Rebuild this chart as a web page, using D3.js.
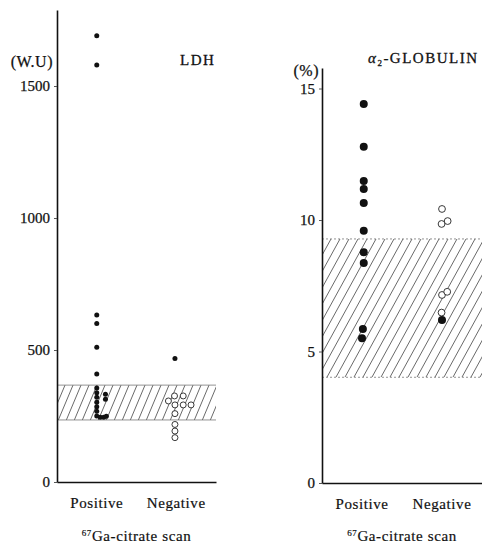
<!DOCTYPE html>
<html><head><meta charset="utf-8">
<script src="https://cdn.jsdelivr.net/npm/d3@7"></script>
<style>
body{margin:0;background:#fff;}
text{font-family:"Liberation Serif","Times New Roman",serif;fill:#111;}
</style></head>
<body><svg id="c" width="482" height="545"></svg>
<script>
// ---------- data ----------
const categories = ["Positive", "Negative"];
// LDH (W.U): [value, column-slot]
const ldhPositiveFilled = [[1690,0],[1580,0],[633,0],[600,0],[510,0],[409,0],[356,0],[338,0],[321,0],[302,0],[285,0],[268,0],[332,1],[313,1],[250,0],[245,0.4],[245,0.8],[249,1.1]];
const ldhNegativeFilled = [[468,-0.15]];
const ldhNegativeOpen = [[326,-0.2],[326,0.8],[307,-0.9],[292,-0.15],[292,0.8],[292,1.7],[259,-0.15],[218,-0.15],[193,-0.15],[168,-0.15]];
const ldhNormalRange = [235, 367];
const ldhTicks = [0, 500, 1000, 1500];
// alpha2-globulin (%)
const gloPositiveFilled = [[14.41,0.2],[12.79,0.2],[11.48,0.2],[11.18,0.2],[10.65,0.2],[9.59,0.2],[8.77,0.2],[8.37,0.2],[5.86,0.1],[5.5,0.0]];
const gloNegativeOpen = [[10.42,0],[9.85,-0.05],[9.96,0.65],[7.15,0],[7.27,0.6],[6.48,-0.05]];
const gloNegativeFilled = [[6.2,0]];
const gloNormalRange = [4.02, 9.28];
const gloTicks = [0, 5, 10, 15];

// ---------- drawing ----------
const svg = d3.select("#c");
const slotPx = d3.scaleLinear().domain([0,1]).range([0,8.7]);

function panel(o){
  const g = svg.append("g");
  const x = d3.scaleBand().domain(categories).range([o.x0, o.x1]).padding(0);
  const y = d3.scaleLinear().domain([0, o.ymax]).range([o.yb, o.yt]);
  const cx = (cat, s) => x(cat) + x.bandwidth()/2 + slotPx(s);

  // hatched normal range
  const clipId = "clip" + o.id;
  const yTop = y(o.range[1]), yBot = y(o.range[0]);
  g.append("clipPath").attr("id", clipId).append("rect")
    .attr("x", o.x0).attr("y", yTop).attr("width", o.x1 - o.x0).attr("height", yBot - yTop);
  const h = yBot - yTop, dx = h * o.slope;
  const starts = d3.range(o.x0 - dx, o.x1 + 2, o.step);
  g.append("g").attr("clip-path", `url(#${clipId})`).selectAll("line").data(starts).join("line")
    .attr("x1", d => d).attr("y1", yBot).attr("x2", d => d + dx).attr("y2", yTop)
    .attr("stroke", "#444").attr("stroke-width", 0.8);
  g.selectAll("line.edge").data([yTop, yBot]).join("line").attr("class","edge")
    .attr("x1", o.x0).attr("x2", o.x1).attr("y1", d => d).attr("y2", d => d)
    .attr("stroke", "#777").attr("stroke-width", 0.8).attr("stroke-dasharray", o.dash);

  // axes
  const ya = g.append("g").attr("transform", `translate(${o.x0},0)`)
    .call(d3.axisLeft(y).tickValues(o.ticks).tickSize(3).tickSizeOuter(0).tickPadding(4).tickFormat(d3.format("d")));
  ya.select(".domain").attr("stroke", "#111").attr("stroke-width", 1.6);
  ya.selectAll(".tick line").attr("stroke", "#555");
  ya.selectAll(".tick text").style("font-size", "15px").style("font-family", "Liberation Serif, serif")
    .attr("fill", "#111").attr("stroke", "#111").attr("stroke-width", 0.25);
  const xa = g.append("g").attr("transform", `translate(0,${o.yb})`)
    .call(d3.axisBottom(x).tickSize(0).tickSizeOuter(0).tickPadding(15));
  xa.select(".domain").attr("stroke", "#111").attr("stroke-width", 1.6);
  xa.selectAll(".tick text").style("font-size", "15px").style("font-family", "Liberation Serif, serif")
    .style("letter-spacing", "0.6px").attr("fill", "#111").attr("stroke", "#111").attr("stroke-width", 0.2);

  // dots
  g.selectAll("circle.f").data(o.filledPos).join("circle").attr("class","f")
    .attr("cx", d => cx("Positive", d[1])).attr("cy", d => y(d[0])).attr("r", o.rf).attr("fill", "#111");
  g.selectAll("circle.fn").data(o.filledNeg).join("circle").attr("class","fn")
    .attr("cx", d => cx("Negative", d[1])).attr("cy", d => y(d[0])).attr("r", o.rf).attr("fill", "#111");
  g.selectAll("circle.o").data(o.openNeg).join("circle").attr("class","o")
    .attr("cx", d => cx("Negative", d[1])).attr("cy", d => y(d[0])).attr("r", o.ro)
    .attr("fill", "#fff").attr("stroke", "#222").attr("stroke-width", 0.9);

  // labels
  g.append("text").attr("x", o.unitX).attr("y", o.unitY).attr("text-anchor","end")
    .style("font-size","16px").style("letter-spacing","0.5px")
    .attr("stroke", "#111").attr("stroke-width", 0.25).text(o.unit);
  const title = g.append("text").attr("x", o.titleX).attr("y", o.titleY)
    .style("font-size", o.titleSize).style("letter-spacing", o.titleLS)
    .attr("stroke", "#111").attr("stroke-width", 0.3);
  o.title(title);
  const xt = g.append("text").attr("x", (o.x0 + o.x1)/2 + o.xtShift).attr("y", 541).attr("text-anchor","middle")
    .style("font-size","15px").style("letter-spacing","0.6px")
    .attr("stroke", "#111").attr("stroke-width", 0.2);
  xt.append("tspan").attr("dy","-5").style("font-size","9px").text("67");
  xt.append("tspan").attr("dy","5").text("Ga-citrate scan");
}

panel({
  id: "L", x0: 57, x1: 216, yb: 482, yt: 10, ymax: 1788, ticks: ldhTicks, range: ldhNormalRange,
  slope: 0.42, step: 8, dash: null,
  filledPos: ldhPositiveFilled, filledNeg: ldhNegativeFilled, openNeg: ldhNegativeOpen, rf: 2.5, ro: 3,
  unit: "(W.U)", unitX: 53, unitY: 67,
  titleX: 180, titleY: 65, titleSize: "15px", titleLS: "1.5px",
  title: t => t.text("LDH"), xtShift: 0
});
panel({
  id: "R", x0: 322, x1: 482, yb: 483, yt: 68, ymax: 15.78, ticks: gloTicks, range: gloNormalRange,
  slope: 0.55, step: 9, dash: "2,2",
  filledPos: gloPositiveFilled, filledNeg: gloNegativeFilled, openNeg: gloNegativeOpen, rf: 4, ro: 3.4,
  unit: "(%)", unitX: 319, unitY: 76,
  titleX: 368, titleY: 63, titleSize: "15px", titleLS: "1.5px",
  title: t => { t.append("tspan").style("font-style","italic").text("α");
                t.append("tspan").attr("dy","3").style("font-size","9px").text("2");
                t.append("tspan").attr("dy","-3").text("-GLOBULIN"); },
  xtShift: 0
});
</script></body></html>
